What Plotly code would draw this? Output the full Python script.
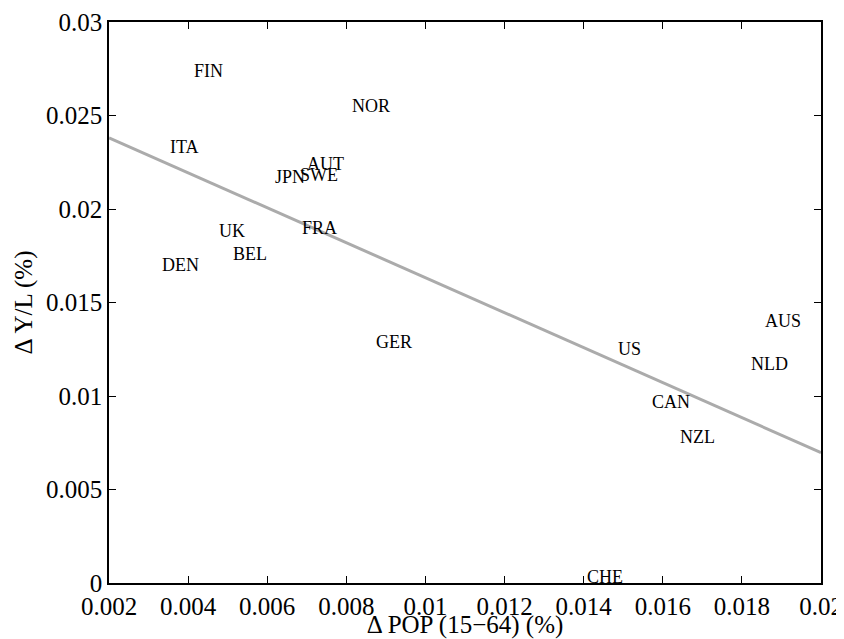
import plotly.graph_objects as go

countries = ["FIN", "ITA", "NOR", "AUT", "JPN", "SWE", "FRA", "UK", "BEL", "DEN",
             "GER", "US", "AUS", "NLD", "CAN", "NZL", "CHE"]
pop_growth = [0.00415, 0.00354, 0.00814, 0.00701, 0.00620, 0.00683, 0.00687, 0.00479, 0.00514, 0.00335,
              0.00875, 0.01486, 0.01858, 0.01823, 0.01572, 0.01643, 0.01408]
prod_growth = [0.0274, 0.0233, 0.0255, 0.0224, 0.0217, 0.0218, 0.0190, 0.0188, 0.0176, 0.0170,
               0.0129, 0.0125, 0.0140, 0.0117, 0.0097, 0.0078, 0.0003]

fit_x = [0.002, 0.02]
fit_y = [0.02381, 0.00697]

x_ticks = [0.002, 0.004, 0.006, 0.008, 0.01, 0.012, 0.014, 0.016, 0.018, 0.02]
x_ticktext = ["0.002", "0.004", "0.006", "0.008", "0.01", "0.012", "0.014", "0.016", "0.018", "0.02"]
y_ticks = [0, 0.005, 0.01, 0.015, 0.02, 0.025, 0.03]
y_ticktext = ["0", "0.005", "0.01", "0.015", "0.02", "0.025", "0.03"]

FONT = "Liberation Serif"

fig = go.Figure()
fig.add_trace(go.Scatter(x=fit_x, y=fit_y, mode="lines",
                         line=dict(color="#ababab", width=3), showlegend=False,
                         hoverinfo="skip"))

annotations = []
for name, xv, yv in zip(countries, pop_growth, prod_growth):
    annotations.append(dict(x=xv, y=yv, xref="x", yref="y", text=name,
                            showarrow=False, xanchor="left", yanchor="middle",
                            xshift=-2,
                            font=dict(family=FONT, size=18, color="black")))

# page body has an 8px margin, so the figure is 8px smaller than the window
fig.update_layout(
    width=836, height=631,
    margin=dict(l=101, r=23, t=14, b=56, autoexpand=False),
    paper_bgcolor="white", plot_bgcolor="white",
    font=dict(family=FONT, size=25, color="black"),
    annotations=annotations,
    xaxis=dict(range=[0.002, 0.02], tickvals=x_ticks, ticktext=x_ticktext,
               ticks="inside", ticklen=7, tickwidth=1, tickcolor="black",
               showline=True, linecolor="black", linewidth=1.5, mirror="ticks",
               showgrid=False, zeroline=False, automargin=False,
               tickfont=dict(family=FONT, size=25, color="black"),
               title=dict(text="Δ POP (15−64) (%)", standoff=3,
                          font=dict(family=FONT, size=25, color="black"))),
    yaxis=dict(range=[0, 0.03], tickvals=y_ticks, ticktext=y_ticktext,
               ticks="inside", ticklen=7, tickwidth=1, tickcolor="black",
               showline=True, linecolor="black", linewidth=1.5, mirror="ticks",
               showgrid=False, zeroline=False, automargin=False,
               tickfont=dict(family=FONT, size=25, color="black"),
               title=dict(text="Δ Y/L (%)", standoff=6,
                          font=dict(family=FONT, size=25, color="black"))),
)

fig.write_html("out.html")
